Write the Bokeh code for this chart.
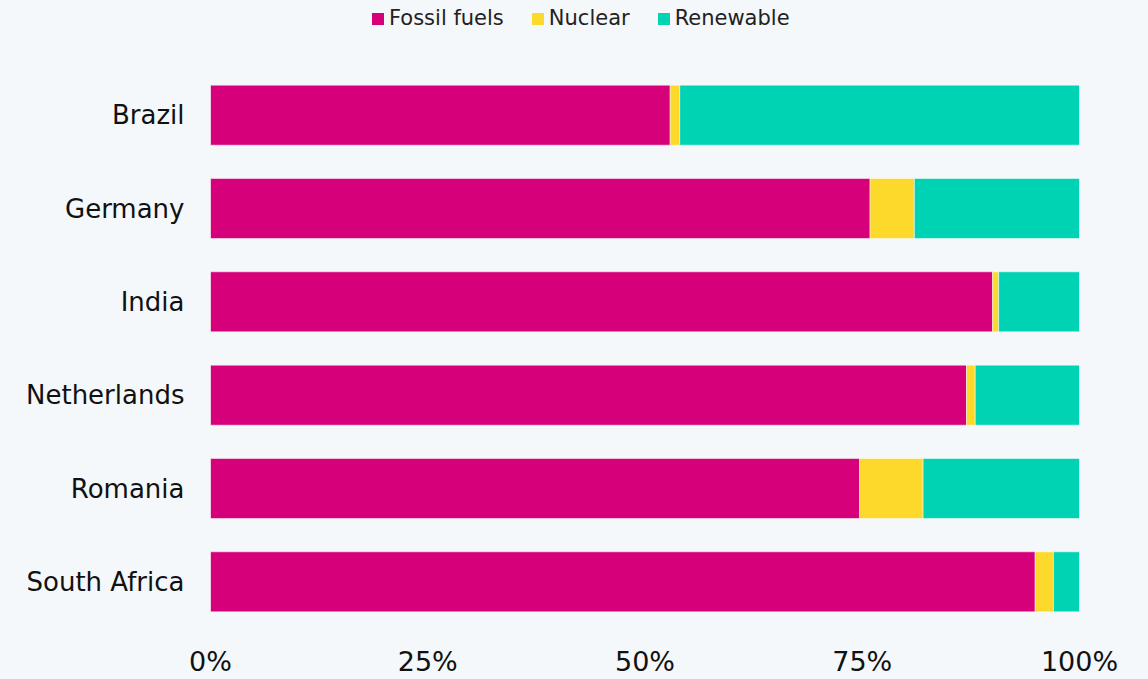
from bokeh.plotting import figure
from bokeh.layouts import column
from bokeh.models import ColumnDataSource, Legend, LegendItem, FactorRange, Range1d, FixedTicker
from bokeh.embed import file_html
from bokeh.resources import INLINE

countries = ["Brazil", "Germany", "India", "Netherlands", "Romania", "South Africa"]
fossil = [52.9, 75.9, 90.0, 87.0, 74.7, 94.9]
nuclear = [1.1, 5.1, 0.7, 1.0, 7.3, 2.1]
renewable = [46.0, 19.0, 9.3, 12.0, 18.0, 3.0]
series = ["Fossil fuels", "Nuclear", "Renewable"]
colors = ["#d6007a", "#fdd92c", "#00d2b4"]
tick_values = [0, 25, 50, 75, 100]
tick_labels = ["0%", "25%", "50%", "75%", "100%"]

BG = "#f4f8fa"
FONT = "DejaVu Sans"

source = ColumnDataSource(dict(country=countries, **{"Fossil fuels": fossil, "Nuclear": nuclear, "Renewable": renewable}))

# legend strip on top (zero-area swatch renderers only feed the legend)
lg = figure(width=1148, height=36, output_backend="svg", toolbar_location=None,
            x_range=Range1d(0, 1), y_range=Range1d(0, 1), x_axis_type=None, y_axis_type=None,
            min_border=0, min_border_left=0, min_border_right=0, min_border_top=0, min_border_bottom=0)
lg.background_fill_color = BG
lg.border_fill_color = BG
lg.outline_line_color = None
lg.grid.visible = False
swatch = ColumnDataSource(dict(l=[0], r=[0], t=[0], b=[0]))
dummies = [lg.quad(left="l", right="r", top="t", bottom="b", source=swatch, color=c, line_color=None)
           for c in colors]
legend = Legend(items=[LegendItem(label=s, renderers=[r]) for s, r in zip(series, dummies)],
                orientation="horizontal", location=(160, 6), margin=0,
                glyph_width=15, glyph_height=15, label_standoff=4, spacing=26, padding=0,
                label_text_font=FONT, label_text_font_size="21px", label_text_color="#222222",
                background_fill_alpha=0, border_line_color=None, label_height=15)
lg.add_layout(legend, "center")

p = figure(width=1148, height=643, output_backend="svg", toolbar_location=None,
           x_range=Range1d(0, 100), y_range=FactorRange(factors=list(reversed(countries)), range_padding=0),
           min_border_left=210, min_border_right=69, min_border_top=32, min_border_bottom=51)
p.background_fill_color = BG
p.border_fill_color = BG
p.outline_line_color = None
p.grid.visible = False

p.hbar_stack(series, y="country", height=0.643, color=colors, source=source,
             line_color="white", line_alpha=0.5, line_width=1)

p.xaxis.ticker = FixedTicker(ticks=tick_values)
p.xaxis.major_label_overrides = {v: l for v, l in zip(tick_values, tick_labels)}
for ax in (p.xaxis, p.yaxis):
    ax.axis_line_color = None
    ax.major_tick_line_color = None
    ax.minor_tick_line_color = None
    ax.major_tick_out = 0
    ax.major_tick_in = 0
    ax.major_label_text_font = FONT
    ax.major_label_text_color = "#111111"
p.xaxis.major_label_text_font_size = "27px"
p.yaxis.major_label_text_font_size = "26px"
p.xaxis.major_label_standoff = 17
p.yaxis.major_label_standoff = 26

layout = column(lg, p, spacing=0, styles={"background-color": BG})
open("out.html", "w").write(file_html(layout, INLINE))
